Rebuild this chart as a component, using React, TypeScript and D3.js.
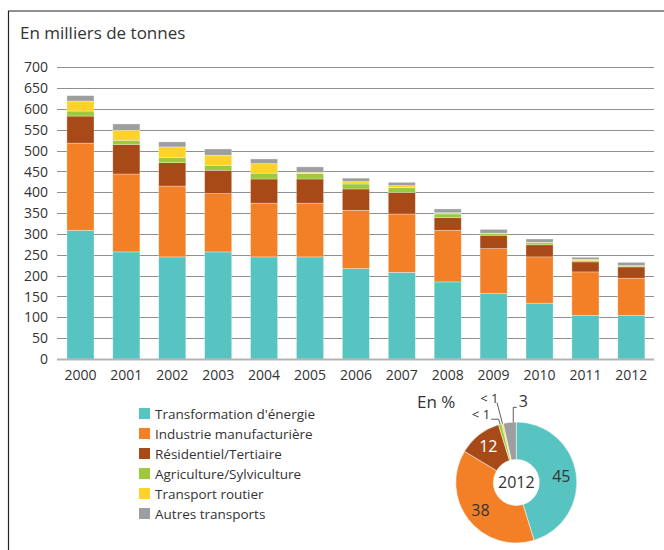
import React from 'react';
import * as d3 from 'd3';

// Émissions par secteur, en milliers de tonnes
const years = ['2000', '2001', '2002', '2003', '2004', '2005', '2006', '2007', '2008', '2009', '2010', '2011', '2012'];
const transformation = [309, 257, 245, 257, 245, 245, 217, 208, 185, 157, 134, 105, 105];
const industrie = [209, 187, 170, 140, 129, 129, 140, 140, 124, 108, 111, 104, 89];
const residentiel = [65, 71, 56, 56, 58, 58, 51, 52, 30, 32, 29, 24, 27];
const agriculture = [12, 10, 12, 12, 14, 13, 12, 11, 9, 4, 5, 3, 2];
const transportRoutier = [24, 24, 26, 24, 23, 3, 6, 5, 3, 1, 1, 3, 1];
const autresTransports = [13, 15, 12, 15, 11, 13, 8, 8, 9, 9, 8, 5, 8];

const sectorNames = [
  'Transformation d\'énergie',
  'Industrie manufacturière',
  'Résidentiel/Tertiaire',
  'Agriculture/Sylviculture',
  'Transport routier',
  'Autres transports',
];
const sectorColors = ['#58c4c1', '#f38026', '#a84a18', '#9dca3c', '#ffd22a', '#9c9e9f'];
const yTicks = [0, 50, 100, 150, 200, 250, 300, 350, 400, 450, 500, 550, 600, 650, 700];

const series = [transformation, industrie, residentiel, agriculture, transportRoutier, autresTransports];
const rows = years.map((year, i) => {
  const row: any = { year };
  sectorNames.forEach((name, k) => { row[name] = series[k][i]; });
  return row;
});

const FONT = '"Open Sans", "DejaVu Sans", sans-serif';
const TEXT = '#333';

const App = () => {
  const x = d3.scaleBand().domain(years).range([57.5, 654.3]).paddingInner(0.41).paddingOuter(0.205);
  const y = d3.scaleLinear().domain([0, 700]).range([359, 67.3]);
  const stacked = d3.stack().keys(sectorNames)(rows);

  // camembert 2012
  const last = years.length - 1;
  const pieValues = series.map((s) => s[last]);
  const pieTotal = d3.sum(pieValues);
  const pie = d3.pie<number>().sort(null).value((d) => d)(pieValues);
  const cx = 516.3;
  const cy = 482.5;
  const rOuter = 60.5;
  const rInner = 23;
  const arc = d3.arc<any>().innerRadius(rInner).outerRadius(rOuter);
  const labelArc = d3.arc<any>().innerRadius(45.5).outerRadius(45.5);
  const pct = (v: number) => {
    const p = (v / pieTotal) * 100;
    return p < 1 ? '< 1' : String(Math.round(p));
  };
  const edgePoint = (a: any, r: number) => {
    const ang = (a.startAngle + a.endAngle) / 2;
    return [cx + r * Math.sin(ang), cy - r * Math.cos(ang)];
  };

  const [gx, gy] = edgePoint(pie[3], rOuter);
  const [yx, yy] = edgePoint(pie[4], rOuter);
  const [ax, ay] = edgePoint(pie[5], rOuter);

  return (
    <svg width={664} height={550} style={{ position: 'absolute', left: 0, top: 0, background: '#fff' }} fontFamily={FONT}>
      {/* cadre */}
      <line x1={8} x2={664} y1={11} y2={11} stroke="#222" strokeWidth={1.2} />
      <line x1={8.5} x2={8.5} y1={11} y2={550} stroke="#222" strokeWidth={1.2} />

      <text x={20} y={39} fontSize={17} fill={TEXT}>En milliers de tonnes</text>

      {/* grille et axe Y */}
      {yTicks.filter((t) => t > 0).map((t) => (
        <line key={t} x1={57} x2={654} y1={Math.round(y(t)) + 0.5} y2={Math.round(y(t)) + 0.5} stroke="#8f8f8f" strokeWidth={1} />
      ))}
      {yTicks.map((t) => (
        <text key={t} x={48} y={y(t)} dy="0.36em" textAnchor="end" fontSize={14} fill={TEXT}>{t}</text>
      ))}

      {/* barres empilées */}
      {stacked.map((layer, k) => (
        <g key={layer.key} fill={sectorColors[k]}>
          {layer.map((d, i) => (
            <rect
              key={years[i]}
              x={x(years[i])}
              y={y(d[1])}
              width={x.bandwidth()}
              height={Math.max(0, y(d[0]) - y(d[1]))}
              stroke="#fff"
              strokeOpacity={0.5}
              strokeWidth={0.6}
            />
          ))}
        </g>
      ))}
      <line x1={57} x2={654} y1={359.5} y2={359.5} stroke="#b3b3b3" strokeWidth={2} />

      {years.map((yr) => (
        <text key={yr} x={(x(yr) || 0) + x.bandwidth() / 2} y={379.5} textAnchor="middle" fontSize={14} fill={TEXT}>{yr}</text>
      ))}

      {/* légende */}
      {sectorNames.map((name, k) => (
        <g key={name} transform={`translate(139, ${408 + k * 20})`}>
          <rect width={11} height={11} fill={sectorColors[k]} />
          <text x={16} y={11} fontSize={13.5} fill={TEXT}>{name}</text>
        </g>
      ))}

      {/* anneau 2012 */}
      <text x={417} y={408} fontSize={17} fill={TEXT}>En %</text>
      <g transform={`translate(${cx}, ${cy})`}>
        {pie.map((a, k) => (
          <path key={k} d={arc(a) || ''} fill={sectorColors[k]} stroke="#fff" strokeWidth={0.5} />
        ))}
        {[0, 1, 2].map((k) => {
          const [lx, ly] = labelArc.centroid(pie[k]);
          return (
            <text key={k} x={lx} y={ly} dy="0.36em" textAnchor="middle" fontSize={16} fill={k === 2 ? '#fff' : TEXT}>
              {pct(pieValues[k])}
            </text>
          );
        })}
        <text x={0} y={0} dy="0.36em" textAnchor="middle" fontSize={16} fill={TEXT}>{years[last]}</text>
      </g>

      {/* étiquettes des petites parts */}
      <path d={`M${gx},${gy} L${gx - 1.5},${gy - 5} H${gx - 9}`} fill="none" stroke="#333" strokeWidth={0.8} />
      <text x={gx - 10} y={gy - 5} textAnchor="end" fontSize={13} fill={TEXT}>{pct(pieValues[3])}</text>
      <path d={`M${yx},${yy} L${yx - 5.5},${yy - 21}`} fill="none" stroke="#333" strokeWidth={0.8} />
      <text x={yx - 4} y={yy - 21} textAnchor="end" fontSize={13} fill={TEXT}>{pct(pieValues[4])}</text>
      <path d={`M${ax + 3.5},${ay} V${ay - 15} H${ax + 7}`} fill="none" stroke="#333" strokeWidth={0.8} />
      <text x={ax + 9} y={ay - 15} fontSize={16} fill={TEXT}>{pct(pieValues[5])}</text>
    </svg>
  );
};

export default App;
